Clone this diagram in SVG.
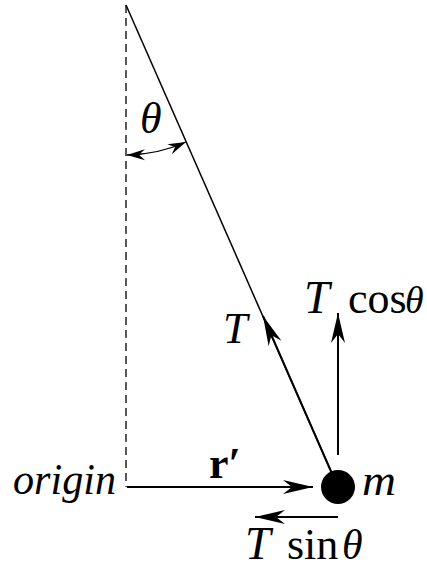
<svg xmlns="http://www.w3.org/2000/svg" width="427" height="569" viewBox="0 0 427 569">
<style>
.math{font-family:"Liberation Serif","DejaVu Serif",serif;fill:#000;font-size:44px}
.it{font-style:italic}
.vec{stroke:#000;stroke-width:2;fill:none}
</style>
<defs>
<marker id="big" markerUnits="userSpaceOnUse" markerWidth="40" markerHeight="20" viewBox="-32 -10 34 20" refX="0" refY="0" orient="auto-start-reverse">
<path d="M0,0 L-30,-7 L-21,0 L-30,7 Z" fill="#000"/>
</marker>
<marker id="small" markerUnits="userSpaceOnUse" markerWidth="24" markerHeight="14" viewBox="-20 -7 22 14" refX="0" refY="0" orient="auto-start-reverse">
<path d="M0,0 L-18,-5.5 L-12,0 L-18,5.5 Z" fill="#000"/>
</marker>
</defs>
<g id="connectors">
<line id="vertical" x1="126" y1="5" x2="126" y2="487" stroke="#000" stroke-width="1.3" stroke-dasharray="8,5"/>
<line id="string" x1="126" y1="5" x2="338" y2="487" stroke="#000" stroke-width="1.5"/>
<path id="theta-arc" d="M127,155 A150 150 0 0 0 186,142" fill="none" stroke="#000" stroke-width="1.3" marker-start="url(#small)" marker-end="url(#small)"/>
<line id="T-vec" class="vec" x1="333" y1="476" x2="263" y2="316" marker-end="url(#big)"/>
<line id="Tcos-vec" class="vec" x1="338" y1="455" x2="338" y2="313" marker-end="url(#big)"/>
<line id="r-vec" class="vec" x1="127" y1="487" x2="313" y2="487" marker-end="url(#big)"/>
<line id="Tsin-vec" class="vec" x1="338" y1="517" x2="255" y2="517" marker-end="url(#big)"/>
</g>
<g id="mass">
<circle cx="338" cy="487" r="17" fill="#000"/>
<text class="math it" x="362" y="495" textLength="34" lengthAdjust="spacingAndGlyphs">m</text>
</g>
<g id="origin">
<text class="math it" x="13" y="494" textLength="103" lengthAdjust="spacingAndGlyphs">origin</text>
</g>
<g id="labels">
<text class="math it" x="140" y="133" font-size="46">θ</text>
<text class="math it" x="223" y="343" font-size="46">T</text>
<text id="Tcos" class="math" x="304" y="313" font-size="34"><tspan class="it" font-size="46">T</tspan><tspan x="348">cos</tspan><tspan class="it" x="405" font-size="38">θ</tspan></text>
<text class="math" x="209" y="478" font-size="38" font-weight="bold">r′</text>
<text id="Tsin" class="math" x="245" y="559" font-size="38"><tspan class="it" font-size="46">T</tspan><tspan x="287">sin</tspan><tspan class="it" x="342" font-size="42">θ</tspan></text>
</g>
</svg>
